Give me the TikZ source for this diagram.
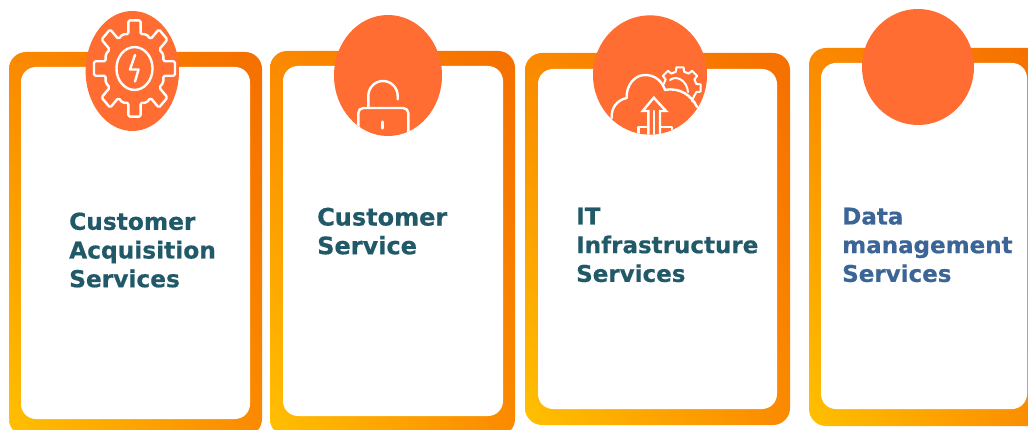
\documentclass[tikz,border=0pt]{standalone}
\usepackage{fontspec}
\usetikzlibrary{shadings}
\setmainfont[BoldFeatures={FakeBold=0.5}]{DejaVu Sans}
\definecolor{circ}{HTML}{FF6D33}
\definecolor{teal1}{HTML}{215968}
\definecolor{blue1}{HTML}{3B6497}
\definecolor{cUL}{HTML}{FA8900}
\definecolor{cUR}{HTML}{F56F00}
\definecolor{cLL}{HTML}{FFC000}
\definecolor{cLR}{HTML}{FB8A00}
\tikzset{
  outerbox/.style={rounded corners=17pt,shading=bilinear interpolation,upper left=cUL,upper right=cUR,lower left=cLL,lower right=cLR},
  innerbox/.style={fill=white,rounded corners=15pt},
  badge/.style={fill=circ},
  icon/.style={draw=white,line width=2.4pt,line join=round,line cap=round},
  label/.style={font=\bfseries\fontsize{23}{28.7}\selectfont,align=left,anchor=north west,inner sep=0pt},
}
\begin{document}
\begin{tikzpicture}[x=1pt,y=-1pt]
\useasboundingbox (0,0) rectangle (1028,430);
\clip (0,0) rectangle (1028,430);
\fill[white] (0,0) rectangle (1028,430);
% cards
\shade[outerbox] (9,52) rectangle (262,436);
\fill[innerbox] (21,67) rectangle (250,419);
\shade[outerbox] (270,51) rectangle (515,436);
\fill[innerbox] (283,66) rectangle (503,416);
\shade[outerbox] (525,53) rectangle (790,425);
\fill[innerbox] (538,69) rectangle (777,409);
\shade[outerbox] (809,48) rectangle (1050,426);
\fill[innerbox] (821,63) rectangle (1027,409);
% badges
\fill[badge] (132.3,71) ellipse [x radius=46.7,y radius=60];
\fill[badge] (388,75.5) ellipse [x radius=54,y radius=60.5];
\fill[badge] (650,75) ellipse [x radius=57,y radius=59.7];
\fill[badge] (918,67) ellipse [x radius=56,y radius=58];
% gear icon
\begin{scope}[shift={(134.5,68.5)},x=41pt,y=-48.7pt]
\draw[icon,rounded corners=1.5pt] (-12:.72)
  \foreach \a in {0,45,...,315}{ -- (\a-12:.72) -- (\a-8.5:1) -- (\a+8.5:1) -- (\a+12:.72) -- (\a+22.5:.76)} -- cycle;
\draw[icon] (0,0) ellipse [x radius=.44,y radius=.44];
\end{scope}
\draw[icon] (135,55) -- (130,69.5) -- (138.5,69.5) -- (135,81.5);
% lock icon
\begin{scope}
\clip (388,75.5) ellipse [x radius=54,y radius=60.5];
\draw[icon] (368.3,107) -- (368.3,96) arc[start angle=180,end angle=360,x radius=14.7,y radius=15] -- (397.7,99.3);
\draw[icon,rounded corners=5pt] (358.3,140) -- (358.3,108) -- (408.3,108) -- (408.3,140);
\draw[icon,line width=3.2pt] (382.7,122) -- (382.7,128);
\end{scope}
% cloud icon
\begin{scope}
\clip (650,75) ellipse [x radius=57,y radius=59.7];
\draw[icon] (611.7,118) .. controls (611,108) and (617,100) .. (626.7,98)
  .. controls (626,86) and (634,75) .. (645,75)
  .. controls (655,75) and (662,81) .. (665,90)
  .. controls (680,87) and (692,96) .. (697,107);
\draw[icon,line join=miter] (648.3,140) -- (648.3,111) -- (642.7,111) -- (653.8,97.7) -- (666,111) -- (660,111) -- (660,140);
\draw[icon] (654,111) -- (654,140);
\draw[icon] (638.3,134) -- (638.3,127) -- (648,127) (660,127) -- (671.7,127) -- (671.7,134);
\draw[icon,line width=2pt] (670,80) .. controls (676,75) and (687,80) .. (688,92);
\begin{scope}[shift={(680,88)},x=21pt,y=21pt]
\draw[icon,line width=2pt] (167:.8)
  \foreach \a in {135,90,45,0}{ -- (\a+14:.8) -- (\a+10:1) -- (\a-10:1) -- (\a-14:.8)}
  -- (-47:.82) -- (-45:1);
\end{scope}
\end{scope}
% labels
\node[label,text=teal1,font=\bfseries\fontsize{23.3}{28.7}\selectfont] (t1) at (69,212.3) {Customer\\Acquisition\\Services};
\node[label,text=teal1,font=\bfseries\fontsize{24}{28.7}\selectfont] (t2) at (317,207.5) {Customer\\Service};
\node[label,text=teal1] (t3) at (576,207.5) {IT\\Infrastructure\\Services};
\node[label,text=blue1] (t4) at (842,207.5) {Data\\management\\Services};
\end{tikzpicture}
\end{document}
